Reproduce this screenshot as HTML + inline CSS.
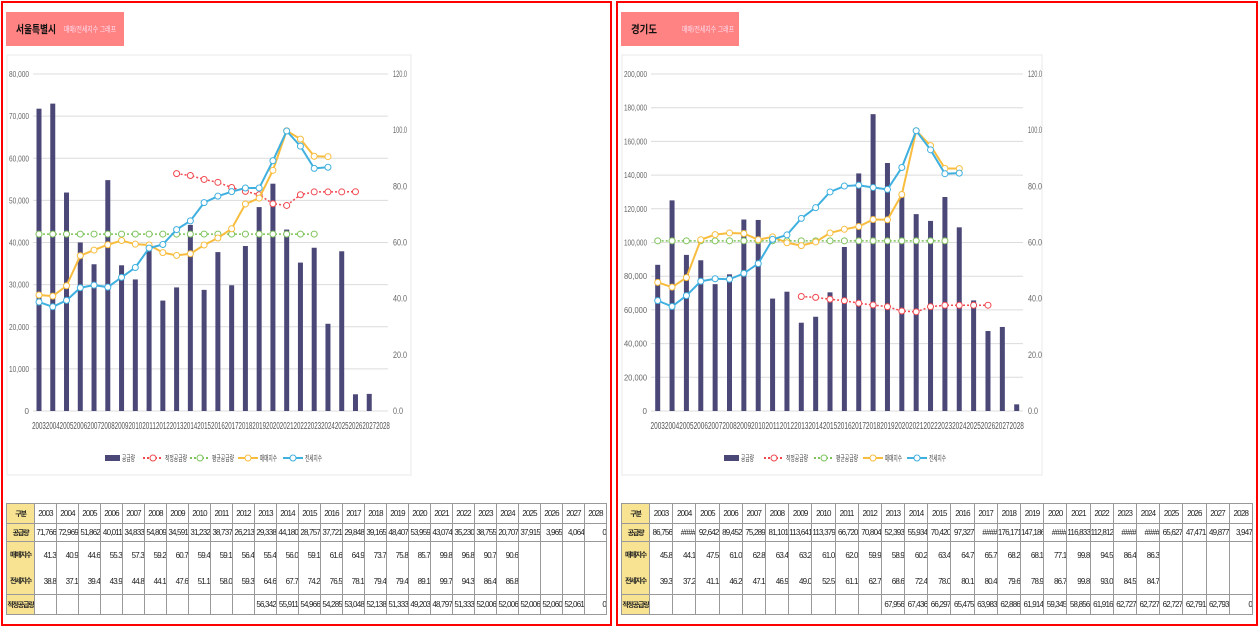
<!DOCTYPE html>
<html><head><meta charset="utf-8">
<style>
html,body{margin:0;padding:0;background:#fff;width:1260px;height:629px;overflow:hidden;font-family:"Liberation Sans","Noto Sans CJK KR",sans-serif}
#svg{position:absolute;left:0;top:0}
table{position:absolute;border-collapse:collapse;table-layout:fixed;font-family:"Liberation Sans Narrow","Liberation Sans","Noto Sans CJK KR",sans-serif;font-size:8px;letter-spacing:-0.8px;color:#222}
td{border:1px solid #999;padding:0;text-align:right;white-space:nowrap;overflow:hidden}
td.h{background:#f7e391;text-align:center;font-weight:bold;letter-spacing:-1.2px;font-size:7px}
tr.yr td{text-align:center}
tr.m td{border-bottom:none}
tr.j td{border-top:none}
</style></head><body>
<svg id="svg" width="1260" height="629" xmlns="http://www.w3.org/2000/svg"></svg>
<table id="t1" style="left:6px;top:503px;width:601px"></table>
<table id="t2" style="left:621px;top:503px;width:632px"></table>
<script>
const NS="http://www.w3.org/2000/svg";
const svg=document.getElementById('svg');
function el(n,a,txt){const e=document.createElementNS(NS,n);for(const k in a)e.setAttribute(k,a[k]);if(txt!==undefined)e.textContent=txt;svg.appendChild(e);return e;}
const years=[];for(let y=2003;y<=2028;y++)years.push(y);
const FF='Liberation Sans,Noto Sans CJK KR,sans-serif';
function panel(c){
  el('rect',{x:c.bx,y:2,width:c.bw,height:623,fill:'none',stroke:'#f00','stroke-width':2});
  el('rect',{x:c.hx,y:12,width:118,height:34,fill:'#ff8383'});
  el('text',{x:c.hx+10,y:33,'font-size':11,'font-weight':'bold',fill:'#111','font-family':FF,textLength:c.tl,lengthAdjust:'spacingAndGlyphs'},c.title);
  el('text',{x:c.hx+c.sub,y:32,'font-size':8,fill:'#fde','font-family':FF,textLength:52,lengthAdjust:'spacingAndGlyphs'},'매매/전세지수 그래프');
  el('rect',{x:c.bx+5,y:55,width:c.fw,height:420,fill:'none',stroke:'#e8e8e8','stroke-width':1});
  const y0=411,yt=74,H=y0-yt;
  const yl=v=>y0-v/c.max*H, yr=v=>y0-v/120*H, xs=i=>c.x0+i*c.dx;
  for(let v=0;v<=c.max;v+=c.step){const y=yl(v);
    el('line',{x1:c.pl,x2:c.pr,y1:y,y2:y,stroke:'#dcdcdc','stroke-width':1});
    const a={x:c.pl-4,y:y+3,'font-size':8,fill:'#666','text-anchor':'end'};
    if(v>0){a.textLength=c.lw;a.lengthAdjust='spacingAndGlyphs';}
    el('text',a,v.toLocaleString('en-US'));}
  for(let v=0;v<=120;v+=20){el('text',{x:c.pr+5,y:yr(v)+3,'font-size':9,fill:'#666',textLength:v==0?10:14,lengthAdjust:'spacingAndGlyphs'},v.toFixed(1));}
  years.forEach((y,i)=>el('text',{x:xs(i),y:429,'font-size':10,fill:'#555','text-anchor':'middle',textLength:c.dx,lengthAdjust:'spacingAndGlyphs'},y));
  c.sup.forEach((v,i)=>{if(v>0)el('rect',{x:xs(i)-2.5,y:yl(v),width:5,height:y0-yl(v),fill:'#4b4878'});});
  function line(vals,start,f,col,dash,w){const pts=vals.map((v,i)=>[xs(i+start),f(v)]);
    const a={points:pts.map(p=>p.join(',')).join(' '),fill:'none',stroke:col,'stroke-width':w||2};if(dash)a['stroke-dasharray']=dash;el('polyline',a);
    pts.forEach(p=>el('circle',{cx:p[0],cy:p[1],r:3,fill:'#fff',stroke:col,'stroke-width':1}));}
  line(Array(21).fill(c.avg),0,yl,'#7dc35a','2,2',1.5);
  line(c.opt,10,yl,'#f0484f','2,2',1.5);
  line(c.mm,0,yr,'#f8bd3e');
  line(c.js,0,yr,'#3fb0df');
  const L=c.leg,ly=458,fs={'font-size':8,fill:'#444',lengthAdjust:'spacingAndGlyphs'};
  el('rect',{x:L[0],y:ly-3,width:15,height:6,fill:'#4b4878'});el('text',Object.assign({x:L[0]+17,y:ly+3,textLength:13},fs),'공급량');
  [['#f0484f','2,2','적정공급량',22],['#7dc35a','2,2','평균공급량',22],['#f8bd3e',null,'매매지수',17],['#3fb0df',null,'전세지수',17]].forEach((s,k)=>{
    const x=L[k+1];const a={x1:x,x2:x+20,y1:ly,y2:ly,stroke:s[0],'stroke-width':2};if(s[1])a['stroke-dasharray']=s[1];el('line',a);
    el('circle',{cx:x+10,cy:ly,r:3,fill:'#fff',stroke:s[0]});el('text',Object.assign({x:x+22,y:ly+3,textLength:s[3]},fs),s[2]);});
}
const A={bx:2,bw:609,hx:6,sub:58,tl:40,fw:404,title:'서울특별시',max:80000,step:10000,x0:39,dx:13.76,pl:33,pr:388,lw:20,avg:42000,
 sup:[71766,72969,51862,40011,34833,54809,34591,31232,38737,26213,29338,44180,28757,37721,29848,39165,48407,53959,43074,35230,38755,20707,37915,3965,4064,0],
 mm:[41.3,40.9,44.6,55.3,57.3,59.2,60.7,59.4,59.1,56.4,55.4,56.0,59.1,61.6,64.9,73.7,75.8,85.7,99.8,96.8,90.7,90.6],
 js:[38.8,37.1,39.4,43.9,44.8,44.1,47.6,51.1,58.0,59.3,64.6,67.7,74.2,76.5,78.1,79.4,79.4,89.1,99.7,94.3,86.4,86.8],
 opt:[56342,55911,54966,54285,53048,52138,51333,49203,48797,51333,52006,52006,52006,52060],
 leg:[105,143,190,238,283]};
const B={bx:617,bw:640,hx:621,sub:61,tl:26,fw:420,title:'경기도',max:200000,step:20000,x0:657.7,dx:14.36,pl:651,pr:1023,lw:23,avg:101000,
 sup:[86756,125000,92642,89452,75289,81101,113641,113379,66720,70804,52393,55934,70420,97327,141000,176171,147186,127000,116833,112812,127000,109000,65627,47471,49877,3947],
 mm:[45.8,44.1,47.5,61.0,62.8,63.4,63.2,61.0,62.0,59.9,58.9,60.2,63.4,64.7,65.7,68.2,68.1,77.1,99.8,94.5,86.4,86.3],
 js:[39.3,37.2,41.1,46.2,47.1,46.9,49.0,52.5,61.1,62.7,68.6,72.4,78.0,80.1,80.4,79.6,78.9,86.7,99.8,93.0,84.5,84.7],
 opt:[67956,67436,66297,65475,63983,62886,61914,59345,58856,61916,62727,62727,62727,62791],
 leg:[724,764,814,863,907]};
panel(A);panel(B);
function table(id,c,supTxt,optTxt,fc){
  const t=document.getElementById(id);let h='<colgroup><col style="width:'+fc+'px">'+years.map(()=>'<col>').join('')+'</colgroup>';
  h+='<tr class="yr" style="height:20px"><td class="h">구분</td>'+years.map(y=>'<td>'+y+'</td>').join('')+'</tr>';
  h+='<tr style="height:18px"><td class="h">공급량</td>'+supTxt.map(v=>'<td>'+v+'</td>').join('')+'</tr>';
  h+='<tr class="m" style="height:27px"><td class="h">매매지수</td>'+years.map((y,i)=>'<td>'+(c.mm[i]!==undefined?c.mm[i].toFixed(1):'')+'</td>').join('')+'</tr>';
  h+='<tr class="j" style="height:26px"><td class="h">전세지수</td>'+years.map((y,i)=>'<td>'+(c.js[i]!==undefined?c.js[i].toFixed(1):'')+'</td>').join('')+'</tr>';
  h+='<tr style="height:20px"><td class="h">적정공급량</td>'+optTxt.map(v=>'<td>'+v+'</td>').join('')+'</tr>';
  t.innerHTML=h;
}
const fm=v=>v.toLocaleString('en-US');
table('t1',A,A.sup.map(fm),Array(10).fill('').concat(A.opt.map(fm),['52,061','0']),28);
const bs=B.sup.map(fm);[1,14,17,20,21].forEach(i=>bs[i]='####');
table('t2',B,bs,Array(10).fill('').concat(B.opt.map(fm),['62,793','0']),28);
</script>
</body></html>
